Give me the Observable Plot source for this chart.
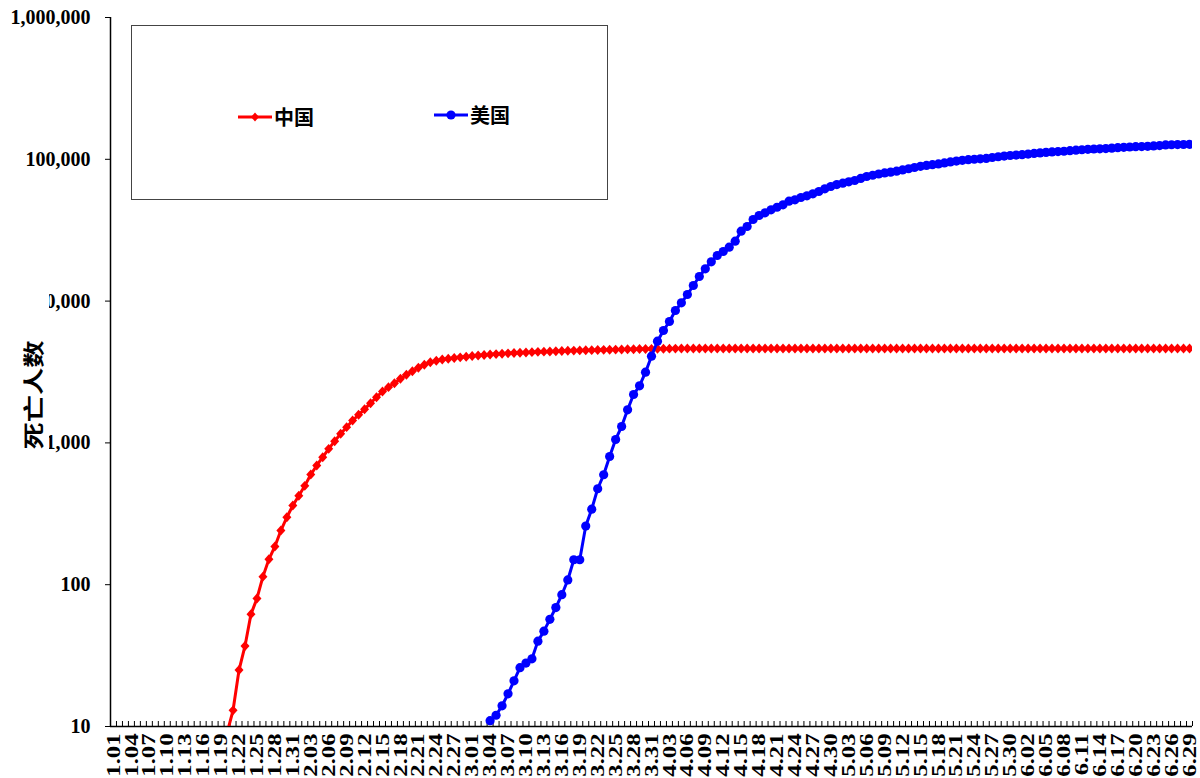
<!DOCTYPE html>
<html>
<head>
<meta charset="utf-8">
<script src="https://cdn.jsdelivr.net/npm/d3@7"></script>
<script src="https://cdn.jsdelivr.net/npm/@observablehq/plot@0.6"></script>
<style>
html, body { margin: 0; padding: 0; background: #fff; }
#wrap { position: relative; width: 1200px; height: 778px; overflow: hidden; background: #fff; }
#legend { position: absolute; left: 131px; top: 25px; width: 477px; height: 175px; border: 1px solid #444; background: #fff; box-sizing: border-box; }
.item { position: absolute; display: flex; align-items: center; font-family: "Noto Sans CJK SC", sans-serif; font-size: 20px; font-weight: 700; color: #000; }
.item svg { display: block; margin-right: 2px; }
#ytitle { position: absolute; left: 14px; top: 292px; width: 35px; height: 160px; background: #fff; }
#ytitle span { position: absolute; left: 50%; top: 103px; transform: translate(-50%, -50%) rotate(-90deg) scaleX(1.3); white-space: nowrap; font-family: "Noto Sans CJK SC", sans-serif; font-weight: 700; font-size: 21px; line-height: 1; }
</style>
</head>
<body>
<div id="wrap">
  <div id="chart"></div>
  <div id="ytitle"><span id="ytitleText"></span></div>
  <div id="legend"></div>
</div>
<script>
// ---- data ----
const xTickLabels = ["1.01","1.04","1.07","1.10","1.13","1.16","1.19","1.22","1.25","1.28","1.31",
  "2.03","2.06","2.09","2.12","2.15","2.18","2.21","2.24","2.27","3.01","3.04","3.07","3.10","3.13",
  "3.16","3.19","3.22","3.25","3.28","3.31","4.03","4.06","4.09","4.12","4.15","4.18","4.21","4.24",
  "4.27","4.30","5.03","5.06","5.09","5.12","5.15","5.18","5.21","5.24","5.27","5.30","6.02","6.05",
  "6.08","6.11","6.14","6.17","6.20","6.23","6.26","6.29"];
const dayCount = 181;          // 1.01 ... 6.29 (2020), one category per day
const labelEvery = 3;          // a label every third day
const yTicks = [10, 100, 1000, 10000, 100000, 1000000];
const seriesNames = ["中国", "美国"];
const seriesColors = ["#ff0000", "#0000ff"];
const yTitle = "死亡人数";

// China, cumulative deaths, from day index 19 (1.20) to 6.29
const chinaStart = 19;
const chinaDeaths = [
  9, 13, 25, 37, 62, 80, 114, 151, 186, 241, 299, 362,               // 1.20 - 1.31
  424, 498, 598, 693, 793, 908, 1028, 1159, 1291, 1439, 1578, 1729,  // 2.01 - 2.12
  1906, 2100, 2304, 2472, 2636, 2833, 3022, 3203, 3385, 3555, 3709,  // 2.13 - 2.23
  3793, 3874, 3920, 3965, 4010, 4055,                                // 2.24 - 2.29
  4100, 4135, 4170, 4200, 4230, 4255, 4280, 4305, 4325, 4345, 4365,  // 3.01 - 3.11
  4385, 4400, 4415, 4430, 4445, 4460, 4475, 4490, 4500, 4510, 4520,  // 3.12 - 3.22
  4530, 4540, 4550, 4560, 4570, 4580, 4590, 4598, 4606,              // 3.23 - 3.31
  4612, 4618, 4622, 4625, 4628, 4630, 4631, 4632, 4632, 4632, 4632,  // 4.01 - 4.11
  4632, 4632, 4632, 4632, 4632, 4632, 4632, 4632, 4632, 4632, 4632,  // 4.12 - 4.22
  4632, 4632, 4632, 4633, 4633, 4633, 4633, 4633,                    // 4.23 - 4.30
  4633, 4633, 4633, 4633, 4633, 4633, 4633, 4633, 4633, 4633, 4633,  // 5.01 - 5.11
  4633, 4633, 4633, 4633, 4633, 4634, 4634, 4634, 4634, 4634, 4634,  // 5.12 - 5.22
  4634, 4634, 4634, 4634, 4634, 4634, 4634, 4634, 4634,              // 5.23 - 5.31
  4634, 4634, 4634, 4634, 4634, 4634, 4634, 4634, 4634, 4634, 4634,  // 6.01 - 6.11
  4634, 4634, 4634, 4634, 4634, 4634, 4634, 4634, 4634, 4634, 4634,  // 6.12 - 6.22
  4634, 4634, 4634, 4634, 4634, 4634, 4634                           // 6.23 - 6.29
];

// United States, cumulative deaths, from day index 63 (3.04) to 6.29
const usStart = 63;
const usDeaths = [
  11, 12, 14, 17, 21, 26, 28, 30, 40, 47, 57, 69, 85, 108,           // 3.04 - 3.17
  150, 150, 259, 341, 475, 596, 802, 1057, 1305, 1712, 2195, 2527,   // 3.18 - 3.29
  3151, 4087,                                                        // 3.30 - 3.31
  5213, 6203, 7180, 8585, 9725, 11130, 12880, 14910, 16900, 18930,   // 4.01 - 4.10
  20970, 22380, 23990, 26450, 31110, 33570, 37620, 40150, 41950, 44050, // 4.11 - 4.20
  45920, 47760, 50640, 51810, 53770, 55270, 57100, 59290, 61940, 64270, // 4.21 - 4.30
  66380, 67840, 69350, 70850, 73280, 75610, 77180, 78790, 80120, 81200, // 5.01 - 5.10
  82400, 84100, 85800, 87500, 89200, 90600, 91700, 92800, 94300, 95800, // 5.11 - 5.20
  97100, 98300, 99400, 100100, 100700, 101500, 103000, 104200, 105400, 106400, 107100, // 5.21 - 5.31
  107800, 108900, 110000, 111000, 111900, 112700, 113300, 114000, 115000, 115900, // 6.01 - 6.10
  116800, 117500, 118200, 118600, 119100, 119900, 120700, 121400, 122100, 122700, // 6.11 - 6.20
  123000, 123400, 124200, 125000, 126200, 126700, 127000, 127200, 127500         // 6.21 - 6.29
];

// ---- build tables ----
const china = chinaDeaths.map((v, k) => ({day: chinaStart + k, v}));
const us = usDeaths.map((v, k) => ({day: usStart + k, v}));
const labelDays = xTickLabels.map((_, k) => k * labelEvery);
const labelOf = new Map(labelDays.map((d, k) => [d, xTickLabels[k]]));
const boundaries = d3.range(dayCount).map(d => d + 0.5);

const serif = "'Liberation Serif', 'Times New Roman', serif";

// Excel-like diamond marker (slightly taller than wide)
const excelDiamond = {
  draw(context, size) {
    const r = Math.sqrt(size / Math.PI);
    context.moveTo(0, -r * 1.1);
    context.lineTo(r, 0);
    context.lineTo(0, r * 1.1);
    context.lineTo(-r, 0);
    context.closePath();
  }
};

const chart = Plot.plot({
  width: 1200,
  height: 778,
  marginLeft: 110,
  marginRight: 8,
  marginTop: 17,
  marginBottom: 52,
  x: {type: "linear", domain: [-0.5, dayCount - 0.5], label: null},
  y: {type: "log", domain: [yTicks[0], yTicks[yTicks.length - 1]], label: null},
  style: {background: "#fff", fontFamily: serif, color: "#000", overflow: "visible"},
  marks: [
    // category tick marks (inside, between days)
    Plot.ruleX(boundaries, {stroke: "#000", strokeWidth: 1, insetTop: 704}),
    Plot.axisY({ticks: yTicks, tickFormat: d3.format(","), tickSize: 5, tickPadding: 15, label: null,
      fontSize: 20, fontWeight: "bold", fontFamily: serif, stroke: "#000"}),
    Plot.axisX({ticks: labelDays, tickFormat: d => labelOf.get(d), tickSize: 0, tickRotate: -90, label: null,
      tickPadding: 7, fontSize: 19, fontWeight: "bold", fontFamily: serif}),
    Plot.ruleY([yTicks[0]], {stroke: "#000", strokeWidth: 1.5}),
    Plot.ruleX([-0.5], {stroke: "#000", strokeWidth: 1.5}),
    Plot.line(china, {x: "day", y: "v", stroke: seriesColors[0], strokeWidth: 3, clip: true}),
    Plot.dot(china, {x: "day", y: "v", symbol: excelDiamond, r: 4.5, fill: seriesColors[0], stroke: null, clip: true}),
    Plot.line(us, {x: "day", y: "v", stroke: seriesColors[1], strokeWidth: 3, clip: true}),
    Plot.dot(us, {x: "day", y: "v", symbol: "circle", r: 4.6, fill: seriesColors[1], stroke: null, clip: true})
  ]
});
document.getElementById("chart").appendChild(chart);

// stretch the rotated date labels along their length, like the reference
chart.querySelectorAll('g[aria-label="x-axis tick label"] text').forEach(t => {
  const tr = t.getAttribute("transform");
  if (tr) t.setAttribute("transform", tr + " scale(1.3,1)");
});

// ---- y title ----
document.getElementById("ytitleText").textContent = yTitle;

// ---- legend ----
const legend = document.getElementById("legend");
const legendPos = [{left: 106, top: 76}, {left: 302, top: 74}];
seriesNames.forEach((name, k) => {
  const item = document.createElement("div");
  item.className = "item";
  item.style.left = legendPos[k].left + "px";
  item.style.top = legendPos[k].top + "px";
  const sw = k === 0
    ? `<svg width="34" height="12"><line x1="0" y1="6" x2="34" y2="6" stroke="${seriesColors[k]}" stroke-width="3"/><path d="M17,1.5 L21,6 L17,10.5 L13,6 Z" fill="${seriesColors[k]}"/></svg>`
    : `<svg width="34" height="12"><line x1="0" y1="6" x2="34" y2="6" stroke="${seriesColors[k]}" stroke-width="3"/><circle cx="17" cy="6" r="4.6" fill="${seriesColors[k]}"/></svg>`;
  item.innerHTML = sw + `<span>${name}</span>`;
  legend.appendChild(item);
});
</script>
</body>
</html>
